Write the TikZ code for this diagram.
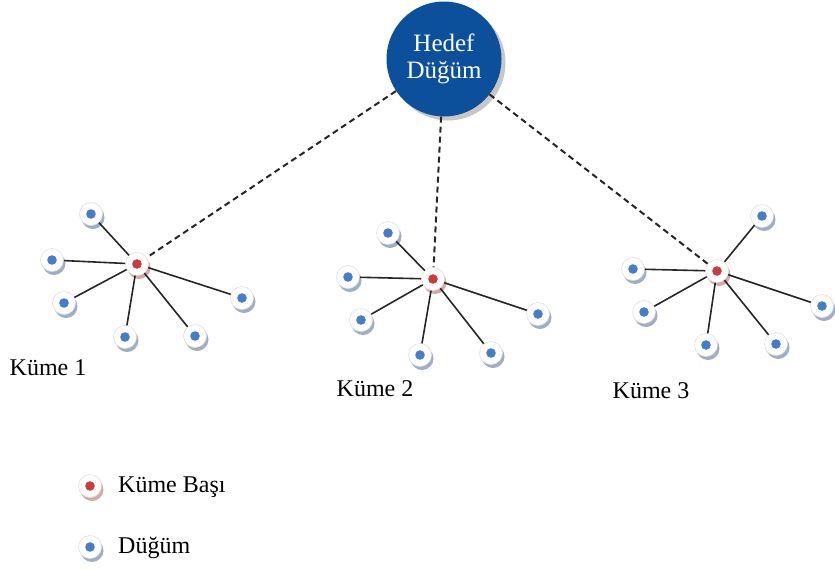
\documentclass[tikz,border=0pt]{standalone}
\usepackage{fontspec}
\setmainfont{Liberation Serif}
\usetikzlibrary{shadows}
\definecolor{hedefblue}{RGB}{12,80,156}
\definecolor{dotblue}{RGB}{70,125,200}
\definecolor{dotred}{RGB}{200,60,60}
\definecolor{shblue}{RGB}{150,165,190}
\definecolor{shred}{RGB}{205,160,160}
\tikzset{
  dnode/.style={circle, minimum size=23pt, inner sep=0pt, fill=white, draw=gray!25, line width=0.6pt,
    drop shadow={shadow xshift=2pt, shadow yshift=-3.5pt, fill=shblue, opacity=0.9},
    path picture={\fill[dotblue] (path picture bounding box.center) circle (4.8pt);}},
  hnode/.style={circle, minimum size=23pt, inner sep=0pt, fill=white, draw=gray!25, line width=0.6pt,
    drop shadow={shadow xshift=2pt, shadow yshift=-3.5pt, fill=shred, opacity=0.9},
    path picture={\fill[dotred] (path picture bounding box.center) circle (4.8pt);}},
  hedef/.style={circle, minimum size=115pt, inner sep=0pt, fill=hedefblue, text=white,
    font=\fontsize{25}{27}\selectfont, align=center,
    drop shadow={shadow xshift=4pt, shadow yshift=-4pt, fill=gray!55, opacity=0.8}},
  link/.style={line width=1.6pt, black!85},
  dlink/.style={line width=2pt, black!85, dash pattern=on 6pt off 4pt},
  lbl/.style={font=\fontsize{24}{28}\selectfont, inner sep=0pt}
}
\begin{document}
\begin{tikzpicture}[x=1pt, y=-1pt]
\useasboundingbox (0,0) rectangle (835,568);
\node[hedef] (hd) at (444,59) {Hedef\\Düğüm};

% cluster 1
\node[hnode] (h1) at (137,264) {};
\node[dnode] (a1) at (91,214) {};
\node[dnode] (a2) at (52,260) {};
\node[dnode] (a3) at (64,303) {};
\node[dnode] (a4) at (125,337) {};
\node[dnode] (a5) at (195,336) {};
\node[dnode] (a6) at (242,298) {};
% cluster 2
\node[hnode] (h2) at (433,279) {};
\node[dnode] (b1) at (388,233) {};
\node[dnode] (b2) at (348,277) {};
\node[dnode] (b3) at (361,320) {};
\node[dnode] (b4) at (420,355) {};
\node[dnode] (b5) at (491,353) {};
\node[dnode] (b6) at (538,314) {};
% cluster 3
\node[hnode] (h3) at (717,271) {};
\node[dnode] (c1) at (762,216) {};
\node[dnode] (c2) at (633,269) {};
\node[dnode] (c3) at (644,312) {};
\node[dnode] (c4) at (706,345) {};
\node[dnode] (c5) at (776,344) {};
\node[dnode] (c6) at (822,306) {};

\foreach \n in {a1,a2,a3,a4,a5,a6} \draw[link] (h1) -- (\n);
\foreach \n in {b1,b2,b3,b4,b5,b6} \draw[link] (h2) -- (\n);
\foreach \n in {c1,c2,c3,c4,c5,c6} \draw[link] (h3) -- (\n);
\draw[dlink] (hd) -- (h1);
\draw[dlink] (hd) -- (h2);
\draw[dlink] (hd) -- (h3);

\node[lbl] (k1) at (48,368) {Küme 1};
\node[lbl] (k2) at (375,389) {Küme 2};
\node[lbl] (k3) at (651,391) {Küme 3};

\node[hnode] (lh) at (90,486) {};
\node[lbl, anchor=west] (lht) at (118,487) {Küme Başı};
\node[dnode] (ld) at (90,547) {};
\node[lbl, anchor=west] (ldt) at (118,548) {Düğüm};
\end{tikzpicture}
\end{document}
